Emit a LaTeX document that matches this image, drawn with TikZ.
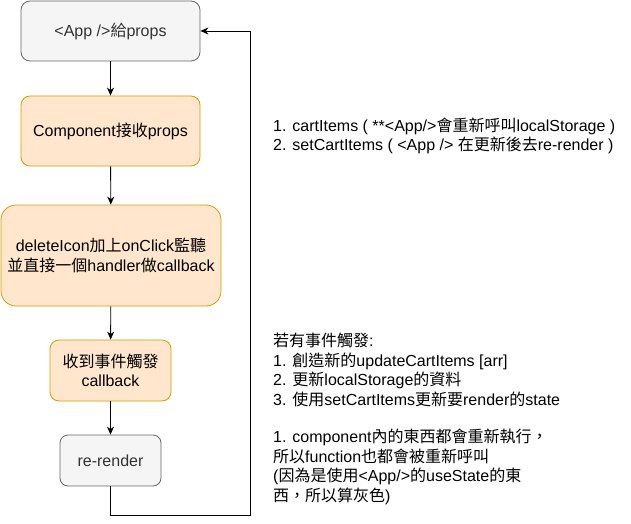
\documentclass[tikz,border=0pt]{standalone}
\usepackage{fontspec}
\setmainfont{Liberation Sans}
\newfontfamily\zhfont{Noto Sans CJK TC}
\newcommand{\zhtxt}[1]{{\zhfont #1}}
\usepackage{xcolor}
\usetikzlibrary{shapes.geometric, arrows.meta, positioning, calc}
\definecolor{grayfill}{HTML}{F5F5F5}
\definecolor{graydraw}{HTML}{666666}
\definecolor{graytext}{HTML}{333333}
\definecolor{orangefill}{HTML}{FFE6CC}
\definecolor{orangedraw}{HTML}{D79B00}
\tikzset{
	graybox/.style={rectangle, draw=graydraw, fill=grayfill, text=graytext, align=center, rounded corners=9pt, line width=0.8pt, inner sep=0pt},
	orangebox/.style={rectangle, draw=orangedraw, fill=orangefill, text=black, align=center, rounded corners=9pt, line width=0.8pt, inner sep=0pt},
	line/.style={draw, line width=0.9pt, -{Stealth[length=8pt, width=7pt, inset=2.5pt]}},
	note/.style={anchor=west, align=left, inner sep=0pt, text=black}
}

\begin{document}
\begin{tikzpicture}[
	x=1pt, y=-1pt,
	every node/.style={font=\fontsize{16}{19.5}\selectfont},
	]
	
	% --- Canvas ---
	\useasboundingbox (0,0) rectangle (631,524);
	
	% --- Parameters ---
	\def\Xc{110.5}      % centre of the flow column
	\def\Xloop{250}     % return line
	\def\Yloop{515}
	
	% --- Flow Boxes ---
	\node[graybox, minimum width=179, minimum height=60] (app) at (\Xc,31) {<App />\zhtxt{給}props};
	\node[orangebox, minimum width=179, minimum height=70] (component) at (\Xc,131) {Component\zhtxt{接收}props};
	\node[orangebox, rounded corners=15pt, minimum width=220, minimum height=101] (listener) at (111,255.5)
		{deleteIcon\zhtxt{加上}onClick\zhtxt{監聽}\\\zhtxt{並直接一個}handler\zhtxt{做}callback};
	\node[orangebox, minimum width=121, minimum height=61] (trigger) at (\Xc,370.5) {\zhtxt{收到事件觸發}\\callback};
	\node[graybox, rounded corners=8pt, minimum width=101, minimum height=51] (render) at (\Xc,460.5) {re-render};
	
	% --- Connectors ---
	\draw[line] (app) -- (component);
	\draw[line] (component) -- (listener);
	\draw[line] (listener) -- (trigger);
	\draw[line] (trigger) -- (render);
	% back to the top
	\coordinate (loopCorner) at (\Xloop,\Yloop);
	\draw[line] (render.south) |- (loopCorner) |- (app.east);
	
	% --- Notes ---
	\node[note] (noteProps) at (273,136) {1. cartItems ( **<App/>\zhtxt{會重新呼叫}localStorage )\\
		2. setCartItems ( <App /> \zhtxt{在更新後去}re-render )};
	\node[note] (noteEvent) at (273,370) {\zhtxt{若有事件觸發}:\\
		1. \zhtxt{創造新的}updateCartItems [arr]\\
		2. \zhtxt{更新}localStorage\zhtxt{的資料}\\
		3. \zhtxt{使用}setCartItems\zhtxt{更新要}render\zhtxt{的}state};
	\node[note] (noteRender) at (273,467) {1. component\zhtxt{內的東西都會重新執行，}\\
		\zhtxt{所以}function\zhtxt{也都會被重新呼叫}\\
		(\zhtxt{因為是使用}<App/>\zhtxt{的}useState\zhtxt{的東}\\
		\zhtxt{西，所以算灰色})};
	
\end{tikzpicture}
\end{document}
